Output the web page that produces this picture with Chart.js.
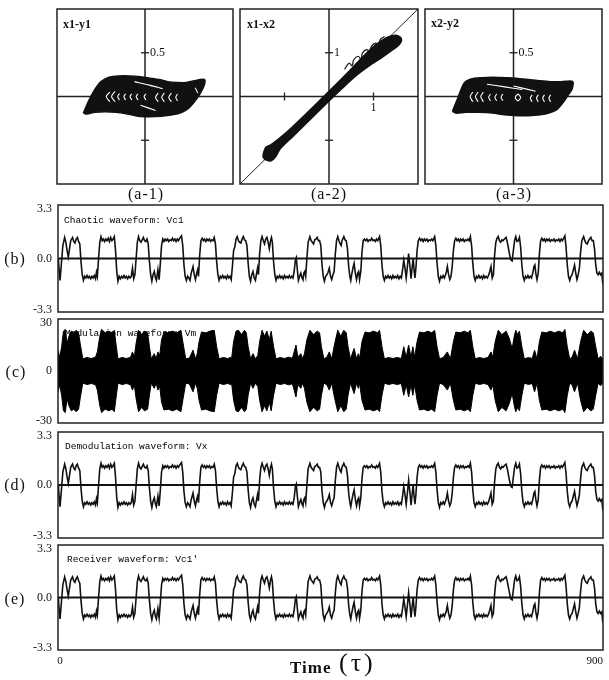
<!DOCTYPE html>
<html><head><meta charset="utf-8">
<script src="https://cdn.jsdelivr.net/npm/chart.js@4.4.1/dist/chart.umd.min.js"></script>
<style>
html,body{margin:0;padding:0;background:#fff;}
#wrap{position:relative;width:609px;height:680px;overflow:hidden;background:#fff;}
canvas{position:absolute;}
.t{position:absolute;white-space:nowrap;color:#111;line-height:1;transform:translate(-50%,-50%);}
.l{position:absolute;white-space:nowrap;color:#111;line-height:1;transform:translate(0,-50%);}
.lab{font-family:'Liberation Serif',serif;font-size:16px;letter-spacing:1px;}
.ttl{font-family:'Liberation Mono',monospace;font-size:9.5px;color:#000;}
.pp{font-family:'Liberation Serif',serif;font-weight:bold;font-size:12px;}
.time{font-family:'Liberation Serif',serif;font-weight:bold;font-size:17px;letter-spacing:1px;}
.tau{font-family:'Liberation Serif',serif;font-size:26px;letter-spacing:3px;}
</style></head><body>
<div id="wrap">
<div class="t lab" style="left:146px;top:194px">(a-1)</div>
<div class="t lab" style="left:329px;top:194px">(a-2)</div>
<div class="t lab" style="left:514px;top:194px">(a-3)</div>
<div class="t lab" style="left:15px;top:259px">(b)</div>
<div class="t lab" style="left:16px;top:372px">(c)</div>
<div class="t lab" style="left:15px;top:485px">(d)</div>
<div class="t lab" style="left:15px;top:599px">(e)</div>
<div class="l pp" style="left:63px;top:24px">x1-y1</div>
<div class="l pp" style="left:247px;top:24px">x1-x2</div>
<div class="l pp" style="left:431px;top:23px">x2-y2</div>
<div class="l ttl" style="left:64px;top:221px">Chaotic waveform: Vc1</div>
<div class="l ttl" style="left:65px;top:334px">Modulation waveform: Vm</div>
<div class="l ttl" style="left:65px;top:447px">Demodulation waveform: Vx</div>
<div class="l ttl" style="left:67px;top:560px">Receiver waveform: Vc1'</div>
<div class="l time" style="left:290px;top:667px">Time</div>
<div class="l tau" style="left:339px;top:663px">(τ)</div>
</div>
<script>
// ---------------- data ----------------
// Chaotic waveform Vc1 (time, volts); (d) and (e) show the same trace
const vc1 = [
[0,0.0],[1,-0.3],[3.3,-1.35],[5,-0.6],[8,0.8],[11,1.3],[13,1.0],[15,0.5],[17,0.1],[19,0.6],[21,1.1],[24,1.3],[26,1.05],[28,0.95],[30,1.2],[32,1.3],[34,1.05],[36,0.9],
[38,-0.2],[40,-1.0],[42,-1.35],[44,-1.1],[46,-1.2],[48,-1.05],[50,-1.2],[52,-1.1],[54,-1.25],[56,-1.1],[58,-1.2],[60,-1.05],[62,-1.25],[63.5,-0.85],[65,-1.1],[67,0.0],[69,1.0],
[71,1.35],[73,1.1],[75,1.2],[77,1.05],[79,1.2],[81,1.1],[83,1.25],[85,1.05],[87,1.3],[89,1.1],[91,1.2],[93,1.35],[95,0.5],[97,-0.8],
[99,-1.4],[101,-1.1],[103,-1.25],[105,-1.1],[107,-1.2],[109,-1.05],[111,-1.2],[113,-1.1],[115,-1.25],[117,-1.1],[119,-1.2],[121,-1.1],[123,-0.6],[125,-1.25],[127,-1.0],[129,0.0],[131,1.0],
[133,1.35],[135,1.1],[137,1.0],[139,1.15],[141,1.3],[143,1.1],[145,1.05],[147,1.2],[149,0.9],[151,-0.2],[153,-1.0],
[155,-1.4],[157,-1.0],[159,-0.8],[161,-1.2],[162.5,-1.35],[165,-0.7],[167,-1.3],[169,-0.3],[171,0.8],
[173,1.2],[175,1.05],[177,1.2],[179,1.1],[181,1.2],[183,1.05],[185,1.15],[187,1.1],[189,1.25],[191,1.1],[193,1.2],[195,1.05],[197,1.2],[199,1.1],[201,1.25],[204,1.4],[206,0.8],[208,-0.4],[210,-1.1],
[212,-1.35],[214,-1.1],[216,-1.2],[218,-1.35],[220,-0.9],[223,-0.5],[225,-1.0],[227,-1.3],[229,-0.9],[230.5,-0.7],[232,-1.1],[234,0.2],[236,1.1],
[238,1.25],[240,1.1],[242,1.2],[244,1.05],[246,1.2],[248,1.1],[250,1.2],[252,1.05],[254,1.15],[256,1.1],[258,1.3],[260,0.9],[262,-0.2],[264,-1.0],
[266,-1.35],[268,-1.1],[270,-1.2],[272,-1.05],[274,-1.2],[276,-1.1],[278,-1.25],[280,-1.05],[282,-1.2],[284,-1.1],[286,-1.3],[288,-0.5],[290,0.5],[292,0.7],[294,1.2],
[296,1.35],[298,1.1],[300,1.0],[302,0.95],[304,1.2],[306,1.35],[308,1.15],[310,1.1],[312,0.8],[314,-0.3],[316,-1.1],
[318,-1.4],[320,-1.0],[322,-0.8],[324,-1.2],[326,-1.35],[328,-0.9],[329.5,-0.6],[331,-1.0],[333,0.3],[335,1.1],
[337,1.35],[339,1.1],[341,0.9],[343,1.2],[345,1.3],[347,1.0],[349,0.6],[351,1.1],[352.5,1.3],[354,1.0],[356,-0.2],[358,-1.0],
[360,-1.35],[362,-1.1],[364,-1.2],[366,-1.05],[368,-1.2],[370,-1.1],[372,-1.25],[374,-1.05],[376,-1.2],[378,-1.1],[380,-1.2],[382,-1.05],[384,-1.2],[386,-1.1],[388,-1.2],[390,-0.8],[392,-0.1],[393.5,0.05],[395,-0.6],
[397,-1.35],[399,-1.1],[401,-0.9],[403,-1.2],[404.5,-1.3],[406,-0.9],[407.5,-0.8],[409,-1.1],[411,0.0],[413,1.0],
[416,1.35],[418,1.1],[420,1.0],[422,0.9],[424,1.15],[426,1.2],[428,1.3],[430,1.1],[432,1.1],[434,0.8],[436,-0.4],[438,-1.1],
[440,-1.4],[442,-1.1],[444,-1.0],[446,-0.85],[448,-0.6],[450,-1.1],[452,-1.3],[454,-1.0],[456,-0.8],[458,0.3],[460,1.1],
[462,1.35],[464,1.1],[466,0.9],[467.5,0.8],[469,1.1],[472,1.35],[474,1.15],[476,1.1],[478,0.6],[480,-0.5],[482,-1.1],
[483.5,-1.35],[485,-1.0],[487,-0.6],[489,-0.3],[491,-0.9],[493,-1.3],[495,-0.9],[496.5,-0.8],[498,-1.3],[500,-0.8],[502,0.4],[504,1.1],
[506,1.2],[508,1.1],[510,1.2],[512,1.05],[514,1.15],[516,1.1],[518,1.25],[520,1.1],[522,1.15],[524,1.05],[526,1.2],[528,1.1],[531,1.35],[533,0.8],[535,-0.4],[537,-1.1],
[539,-1.35],[541,-1.1],[543,-1.2],[545,-1.05],[547,-1.2],[549,-1.1],[551,-1.25],[553,-1.05],[555,-1.2],[557,-1.1],[559,-1.2],[561,-1.05],[563,-1.25],[565,-1.1],[567,-1.2],[569,-0.7],[571,-0.1],[573,-0.6],[575,-1.2],[577,-0.5],[579,0.3],[581,-0.4],[583,-1.25],[585,-0.5],[586.5,0.0],[588,-0.7],[589.5,-1.2],[591,-0.6],[593,0.5],[595,1.1],
[597,1.25],[599,1.1],[601,1.2],[603,1.05],[605,1.2],[607,1.1],[609,1.2],[611,1.05],[613,1.15],[615,1.1],[617,1.2],[619,1.1],[622,1.35],[624,0.8],[626,-0.3],[628,-1.1],
[630,-1.4],[632,-1.1],[634,-1.2],[636,-1.05],[638,-1.2],[640,-1.0],[641.5,-0.8],[643,-0.5],[645,-1.0],[647,-1.3],[649,-1.1],[651,-0.5],[653,0.5],[655,1.1],
[657,1.25],[659,1.1],[661,1.2],[663,1.05],[665,1.2],[667,1.1],[669,1.2],[671,1.05],[673,1.15],[675,1.1],[677,1.2],[679,1.1],[681,1.35],[683,0.8],[685,-0.3],[687,-1.1],
[689,-1.35],[691,-1.1],[693,-1.2],[695,-1.05],[697,-1.2],[699,-1.1],[701,-1.25],[703,-1.05],[705,-1.2],[707,-1.1],[709,-1.2],[711,-1.05],[713,-0.8],[715,-0.5],[717,-1.2],[719,-1.0],[721,0.2],[723,1.0],
[725,1.25],[727,1.35],[729,1.1],[731,1.0],[733,1.15],[735,1.1],[737,1.2],[740,1.3],[742,1.0],[744,0.6],[746,0.2],[748,-0.1],[750,-0.15],[752,0.5],[754,1.1],[756,1.35],[758,1.05],[760,1.1],[762,1.3],[764,0.7],[766,-0.4],[768,-1.1],
[770,-1.35],[772,-1.1],[774,-1.2],[776,-1.05],[778,-1.2],[780,-1.1],[782,-1.2],[784,-0.9],[786,-0.5],[787.5,-0.4],[789,-0.9],[791,-1.3],[793,-0.9],[795,0.3],[797,1.1],
[799,1.25],[801,1.1],[803,1.2],[805,1.05],[807,1.2],[809,1.1],[811,1.2],[813,1.05],[815,1.15],[817,1.1],[819,1.2],[821,1.05],[823,1.15],[825,1.1],[827,1.2],[829,1.05],[831,1.2],[833,1.1],[835,1.25],[837,1.4],[839,0.7],[841,-0.4],[843,-1.1],
[845,-1.35],[847,-1.1],[849,-1.0],[851,-0.7],[853,-0.4],[855,-0.9],[857,-1.3],[859,-1.0],[861,-0.6],[863,0.4],[865,1.1],
[868,1.35],[870,1.1],[872,0.95],[874,0.9],[876,1.1],[878,1.2],[880,1.3],[882,1.1],[884,1.1],[886,0.6],[888,-0.4],[890,-0.9],
[892,-1.0],[894,-0.85],[896,-1.0],[898,-0.9],[899.5,-1.5],[900,-1.6]
];
const vx = vc1;     // demodulation waveform (d)
const vc1r = vc1;   // receiver waveform (e)

// Modulation waveform Vm: envelope amplitude (time, volts)
const vmEnvelope = [
[0,12],[3,8],[6,14],[9,23],[12,24],[15,16],[18,20],[22,23],[26,22],[30,23.5],[34,22],[37,15],[41,7],[48,7.8],[55,7.2],[62,8],[65,11],[69,20],[72,24],[78,22],[84,23],[89,22],[93,23.5],[96,15],[99,7],[106,7.8],[113,7.2],[120,8],[123,11],[126,8],[129,16],[133,23.5],[138,21],[143,23],[148,22],[151,14],[154,7],[159,10],[162,7],[165,11],[168,9],[171,18],[175,22.5],[182,22],[189,23],[196,22],[203,23.5],[207,15],[211,7],[217,7.5],[223,12],[227,7],[230,10],[233,17],[237,22.5],[244,22],[251,23],[258,23.5],[262,14],[266,7],[273,7.8],[280,7.2],[287,8],[290,17],[294,23],[298,23.5],[303,21],[308,23.5],[311,22],[314,14],[318,7],[322,10],[326,7],[330,9],[333,17],[337,23.5],[341,20],[345,23],[349,18],[352,23],[356,14],[360,7],[367,7.8],[374,7.2],[381,8],[387,7.4],[390,11],[393,15],[396,8],[401,10],[404,7],[407,10],[411,18],[416,23.5],[422,21],[428,23],[432,22],[435,14],[439,7],[444,8],[448,11],[452,7],[457,16],[462,23.5],[467,20],[472,23.5],[476,22],[479,14],[483,7],[489,13],[493,7],[496,10],[498,7],[502,17],[507,22.5],[514,22],[521,23],[528,22],[531,23.5],[535,14],[539,7],[546,7.8],[553,7.2],[560,7.8],[567,7.2],[571,14],[575,8],[579,15],[583,8],[586,14],[589,8],[593,17],[597,22.5],[604,22],[611,23],[617,22],[622,23.5],[626,14],[630,7],[636,7.8],[643,11],[648,7],[653,17],[657,22.5],[664,22],[671,23],[677,22],[681,23.5],[685,14],[689,7],[696,7.8],[703,7.2],[710,7.8],[715,11],[718,8],[722,17],[727,23.5],[733,21],[740,23],[745,19],[750,13],[754,21],[756,23.5],[759,21],[762,23],[766,14],[770,7],[777,7.8],[783,7.2],[787,12],[791,7],[795,17],[799,22.5],[806,22],[813,23],[820,22],[827,23],[834,22],[837,24],[841,14],[845,7],[849,8],[853,12],[858,7],[863,17],[868,23.5],[874,21],[880,23],[884,22],[888,14],[892,7],[896,8.5],[900,7]
];

// waveform axis ticks
const voltTicks = [-3.3, 0, 3.3];
const voltTickLabels = ['-3.3', '0.0', '3.3'];
const vmTicks = [-30, 0, 30];
const vmTickLabels = ['-30', '0', '30'];
const timeTicks = [0, 900];
const timeTickLabels = ['0', '900'];

// phase portraits (outline of the dark attractor region + white inner streaks)
const a1Outline = [[-0.70,-0.19],[-0.64,-0.05],[-0.57,0.08],[-0.50,0.17],[-0.41,0.22],[-0.30,0.235],[-0.18,0.235],[-0.05,0.225],[0.06,0.21],[0.16,0.195],[0.26,0.17],[0.36,0.16],[0.47,0.16],[0.56,0.18],[0.63,0.195],[0.68,0.19],[0.67,0.12],[0.63,0.04],[0.57,-0.05],[0.50,-0.13],[0.42,-0.18],[0.31,-0.21],[0.18,-0.225],[0.05,-0.23],[-0.08,-0.225],[-0.20,-0.20],[-0.33,-0.18],[-0.45,-0.175],[-0.57,-0.18],[-0.66,-0.20],[-0.70,-0.19]];
const a1Streaks = [
 [-0.40,0.05],[-0.44,0.0],[-0.40,-0.06],null,
 [-0.34,0.06],[-0.38,0.0],[-0.34,-0.06],null,
 [-0.29,0.035],[-0.31,0.0],[-0.29,-0.04],null,
 [-0.22,0.03],[-0.24,0.0],[-0.22,-0.04],null,
 [-0.15,0.03],[-0.17,0.0],[-0.15,-0.04],null,
 [-0.08,0.03],[-0.10,0.0],[-0.08,-0.04],null,
 [0.01,0.03],[-0.01,0.0],[0.01,-0.04],null,
 [0.15,0.04],[0.12,-0.01],[0.15,-0.06],null,
 [0.22,0.04],[0.19,-0.01],[0.22,-0.06],null,
 [0.30,0.04],[0.27,-0.01],[0.30,-0.06],null,
 [0.37,0.03],[0.35,-0.01],[0.37,-0.05],null,
 [-0.12,0.17],[0.05,0.13],[0.20,0.09],null,
 [-0.05,-0.10],[0.12,-0.16],null,
 [0.57,0.10],[0.60,0.04],null
];
const a2Outline = [[-1.47,-1.28],[-1.42,-1.16],[-1.3,-1.1],[-1.0,-0.86],[-0.6,-0.48],[-0.2,-0.08],[0.2,0.32],[0.5,0.63],[0.8,0.95],[1.05,1.18],[1.3,1.35],[1.48,1.40],[1.6,1.36],[1.63,1.28],[1.57,1.18],[1.45,1.08],[1.2,0.9],[0.9,0.7],[0.6,0.47],[0.3,0.19],[0.0,-0.1],[-0.4,-0.5],[-0.8,-0.9],[-1.1,-1.2],[-1.2,-1.38],[-1.3,-1.47],[-1.42,-1.45],[-1.48,-1.38],[-1.47,-1.28]];
const a2Loops = [[0.35,0.62],[0.45,0.76],[0.52,0.70],[0.55,0.83],[0.65,0.92],[0.72,0.86],[0.75,0.99],[0.85,1.07],[0.92,1.01],[0.95,1.14],[1.05,1.22],[1.12,1.16],[1.15,1.30],[1.25,1.37]];
const a2Diagonal = [[-2.1,-2.1],[2.1,2.1]];
const a3Outline = [[-0.69,-0.17],[-0.63,-0.02],[-0.56,0.15],[-0.48,0.20],[-0.36,0.215],[-0.235,0.22],[-0.10,0.215],[0.03,0.21],[0.17,0.195],[0.30,0.18],[0.42,0.17],[0.52,0.17],[0.60,0.175],[0.67,0.17],[0.66,0.08],[0.62,0.02],[0.56,-0.07],[0.49,-0.15],[0.40,-0.19],[0.30,-0.21],[0.17,-0.22],[0.05,-0.22],[-0.10,-0.21],[-0.235,-0.19],[-0.40,-0.18],[-0.54,-0.18],[-0.65,-0.19],[-0.69,-0.17]];
const a3Streaks = [
 [-0.46,0.05],[-0.49,0.0],[-0.46,-0.06],null,
 [-0.40,0.05],[-0.43,0.0],[-0.40,-0.06],null,
 [-0.34,0.05],[-0.37,0.0],[-0.34,-0.06],null,
 [-0.26,0.03],[-0.28,-0.01],[-0.26,-0.05],null,
 [-0.19,0.03],[-0.21,-0.01],[-0.19,-0.05],null,
 [-0.12,0.03],[-0.14,-0.01],[-0.12,-0.05],null,
 [0.05,0.03],[0.02,-0.01],[0.05,-0.05],[0.08,-0.01],[0.05,0.03],null,
 [0.21,0.02],[0.19,-0.02],[0.21,-0.06],null,
 [0.28,0.02],[0.26,-0.02],[0.28,-0.06],null,
 [0.35,0.02],[0.33,-0.02],[0.35,-0.06],null,
 [0.42,0.02],[0.40,-0.02],[0.42,-0.06],null,
 [-0.30,0.14],[-0.10,0.11],[0.10,0.08],null,
 [0.0,0.12],[0.25,0.06],null
];
const a1TicksY = [0.5, -0.5], a1LabelsY = [[0.5,'0.5']];
const a2TicksX = [-1, 1], a2TicksY = [1, -1], a2LabelsX = [[1,'1']], a2LabelsY = [[1,'1']];
const a3TicksY = [0.5, -0.5], a3LabelsY = [[0.5,'0.5']];

// ---------------- drawing ----------------
const pts = arr => { let px = 0; return arr.map(p => { if (p) { px = p[0]; return {x:p[0], y:p[1]}; } return {x:px, y:null}; }); };

function mk(left, top, w, h){
  const c = document.createElement('canvas');
  c.width = w; c.height = h;
  c.style.left = left+'px'; c.style.top = top+'px'; c.style.width = w+'px'; c.style.height = h+'px';
  const wrap = document.getElementById('wrap');
  wrap.insertBefore(c, wrap.firstChild);
  return c;
}

const boxPlugin = {id:'box', afterDatasetsDraw(chart){
  const a = chart.chartArea, c = chart.ctx;
  c.save(); c.strokeStyle = '#222'; c.lineWidth = 1.5;
  c.strokeRect(a.left, a.top, a.right-a.left, a.bottom-a.top);
  c.restore();
}};

const crossPlugin = {id:'cross',
  beforeDatasetsDraw(chart){
    const {ctx, chartArea:a, scales:{x,y}} = chart;
    const x0 = x.getPixelForValue(0), y0 = y.getPixelForValue(0);
    ctx.save(); ctx.strokeStyle = '#222'; ctx.lineWidth = 1.5;
    ctx.beginPath(); ctx.moveTo(x0,a.top); ctx.lineTo(x0,a.bottom); ctx.moveTo(a.left,y0); ctx.lineTo(a.right,y0); ctx.stroke();
    ctx.restore();
  },
  afterDatasetsDraw(chart, args, o){
    const {ctx, scales:{x,y}} = chart;
    const x0 = x.getPixelForValue(0), y0 = y.getPixelForValue(0);
    ctx.save(); ctx.strokeStyle = '#222'; ctx.lineWidth = 1.3; ctx.fillStyle = '#111';
    (o.yTicks||[]).forEach(v => { const p = y.getPixelForValue(v); ctx.beginPath(); ctx.moveTo(x0-4,p); ctx.lineTo(x0+4,p); ctx.stroke(); });
    (o.xTicks||[]).forEach(v => { const p = x.getPixelForValue(v); ctx.beginPath(); ctx.moveTo(p,y0-4); ctx.lineTo(p,y0+4); ctx.stroke(); });
    ctx.font = '12px "Liberation Serif"';
    ctx.textAlign = 'left'; ctx.textBaseline = 'middle';
    (o.yLabels||[]).forEach(([v,t]) => ctx.fillText(t, x0+5, y.getPixelForValue(v)));
    ctx.textAlign = 'center'; ctx.textBaseline = 'top';
    (o.xLabels||[]).forEach(([v,t]) => ctx.fillText(t, x.getPixelForValue(v), y0+5));
    ctx.restore();
  }
};

function phaseChart(box, range, datasets, crossOpts){
  const p = 3;
  const c = mk(box.l-p, box.t-p, box.r-box.l+2*p, box.b-box.t+2*p);
  new Chart(c, {type:'line', data:{datasets},
    options:{responsive:false, animation:false, devicePixelRatio:1, layout:{padding:p},
      plugins:{legend:{display:false}, tooltip:{enabled:false}, cross:crossOpts},
      elements:{point:{radius:0}, line:{tension:0}},
      scales:{x:{type:'linear', min:-range, max:range, display:false}, y:{type:'linear', min:-range, max:range, display:false}}},
    plugins:[crossPlugin, boxPlugin]});
}
// Chart.js paints dataset 0 on top, so the overlays come first in each list
const blob = (arr) => ({data:pts(arr), borderColor:'#111', borderWidth:1.5, backgroundColor:'#111', fill:'shape', tension:0.25});
const white = (arr) => ({data:pts(arr), borderColor:'#fff', borderWidth:1.1, fill:false, tension:0.3});

phaseChart({l:57,r:233,t:9,b:184}, 1, [white(a1Streaks), blob(a1Outline)], {yTicks:a1TicksY, yLabels:a1LabelsY});
phaseChart({l:240,r:418,t:9,b:184}, 2, [
  {data:pts(a2Loops), borderColor:'#111', borderWidth:1.2, fill:false, tension:0.4},
  blob(a2Outline),
  {data:pts(a2Diagonal), borderColor:'#222', borderWidth:1, fill:false}
], {xTicks:a2TicksX, yTicks:a2TicksY, xLabels:a2LabelsX, yLabels:a2LabelsY});
phaseChart({l:425,r:602,t:9,b:184}, 1, [white(a3Streaks), blob(a3Outline)], {yTicks:a3TicksY, yLabels:a3LabelsY});

// zero line + tick labels of the waveform panels, placed through the chart's scales
const waveAxisPlugin = {id:'waveAxis',
  beforeDatasetsDraw(chart){
    const {ctx, chartArea:a, scales:{y}} = chart;
    const p = y.getPixelForValue(0);
    ctx.save(); ctx.strokeStyle = '#111'; ctx.lineWidth = 1.8;
    ctx.beginPath(); ctx.moveTo(a.left, p); ctx.lineTo(a.right, p); ctx.stroke(); ctx.restore();
  },
  afterDraw(chart, args, o){
    const {ctx, chartArea:a, scales:{x,y}} = chart;
    ctx.save(); ctx.fillStyle = '#111';
    ctx.font = '12px "Liberation Serif"'; ctx.textAlign = 'right'; ctx.textBaseline = 'middle';
    o.yTicks.forEach((v,i) => {
      const p = Math.min(Math.max(y.getPixelForValue(v), a.top+4), a.bottom-2);
      ctx.fillText(o.yLabels[i], a.left-6, p);
    });
    if (o.xTicks) {
      ctx.font = '11px "Liberation Serif"'; ctx.textBaseline = 'top';
      o.xTicks.forEach((v,i) => {
        const p = x.getPixelForValue(v);
        ctx.textAlign = (i === o.xTicks.length-1) ? 'right' : 'center';
        ctx.fillText(o.xLabels[i], i === 0 ? p+2 : p, a.bottom+6);
      });
    }
    ctx.restore();
  }
};

function waveChart(box, datasets, yr, yTicks, yLabels, showX){
  const padTop = 10, padBottom = showX ? 30 : 10;
  const top = box.t - padTop;
  const h = (box.b - box.t) + padTop + padBottom;
  const c = mk(0, top, 609, h);
  new Chart(c, {type:'line', data:{datasets},
    options:{responsive:false, animation:false, devicePixelRatio:1,
      layout:{padding:{left:box.l, right:609-box.r, top:padTop, bottom:padBottom}},
      plugins:{legend:{display:false}, tooltip:{enabled:false},
               waveAxis:{yTicks, yLabels, xTicks: showX ? timeTicks : null, xLabels: timeTickLabels}},
      elements:{point:{radius:0}, line:{tension:0}},
      scales:{
        x:{type:'linear', min:0, max:900, display:false},
        y:{type:'linear', min:-yr, max:yr, display:false}
      }},
    plugins:[waveAxisPlugin, boxPlugin]});
}
const trace = arr => ({data:pts(arr), borderColor:'#111', borderWidth:1.6, fill:false});

waveChart({l:58,r:603,t:205,b:312}, [trace(vc1)], 3.3, voltTicks, voltTickLabels, false);
waveChart({l:58,r:603,t:319,b:423}, [
  {data:vmEnvelope.map(([t,a]) => ({x:t, y:a})), borderColor:'#000', borderWidth:1, fill:false},
  {data:vmEnvelope.map(([t,a]) => ({x:t, y:-a})), borderColor:'#000', borderWidth:1, fill:'-1', backgroundColor:'#000'}
], 30, vmTicks, vmTickLabels, false);
waveChart({l:58,r:603,t:432,b:538}, [trace(vx)], 3.3, voltTicks, voltTickLabels, false);
waveChart({l:58,r:603,t:545,b:650}, [trace(vc1r)], 3.3, voltTicks, voltTickLabels, true);
</script>
</body></html>
